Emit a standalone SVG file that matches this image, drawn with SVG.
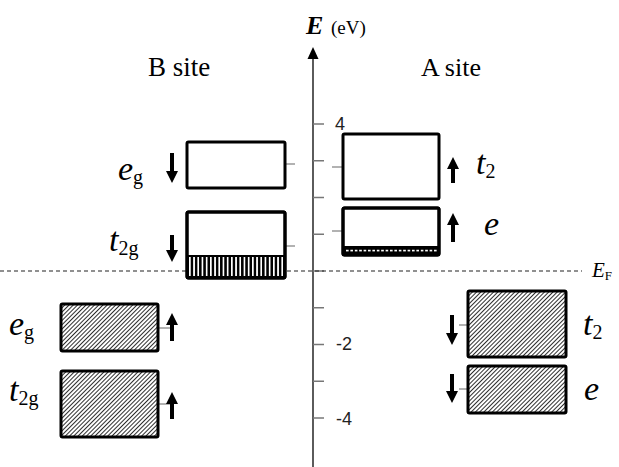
<svg xmlns="http://www.w3.org/2000/svg" width="619" height="467" viewBox="0 0 619 467">
<style>
.box{stroke:#000;stroke-width:3;fill:#fff}
.hbox{stroke:#000;stroke-width:3;fill:url(#diag)}
.arr{fill:#000;stroke:none}
.stub{stroke:#888;stroke-width:1.3}
.tick{stroke:#777;stroke-width:1.5}
.serif{font-family:"Liberation Serif","Times New Roman",serif;fill:#000}
.lab{font-family:"Liberation Serif","Times New Roman",serif;font-size:34px;font-style:italic;fill:#000}
.sub{font-style:normal;font-size:20px}
.num{font-family:"Liberation Sans",Arial,sans-serif;font-size:18px;fill:#222}
</style>
<defs>
<pattern id="diag" patternUnits="userSpaceOnUse" width="3" height="3" patternTransform="rotate(45)">
<rect width="3" height="3" fill="#fff"/>
<line x1="0" y1="0" x2="0" y2="3" stroke="#222" stroke-width="1.9"/>
</pattern>
<pattern id="vstripe" patternUnits="userSpaceOnUse" x="189" y="0" width="4.2" height="10">
<rect x="0" y="0" width="1.7" height="10" fill="#fff"/>
</pattern>
<pattern id="dots" patternUnits="userSpaceOnUse" x="346" y="249.5" width="4.4" height="10">
<rect x="0" y="0" width="2.6" height="2.2" fill="#fff"/>
</pattern>
</defs>

<g id="axis">
<line x1="313" y1="56" x2="313" y2="467" stroke="#333" stroke-width="1.6"/>
<polygon points="313,47 307.5,59 318.5,59" fill="#000"/>
<line class="tick" x1="313" y1="124" x2="324" y2="124"/>
<line class="tick" x1="313" y1="160.75" x2="324" y2="160.75"/>
<line class="tick" x1="313" y1="197.5" x2="324" y2="197.5"/>
<line class="tick" x1="313" y1="234.25" x2="324" y2="234.25"/>
<line class="tick" x1="313" y1="271" x2="324" y2="271"/>
<line class="tick" x1="313" y1="307.75" x2="324" y2="307.75"/>
<line class="tick" x1="313" y1="344.5" x2="324" y2="344.5"/>
<line class="tick" x1="313" y1="381.25" x2="324" y2="381.25"/>
<line class="tick" x1="313" y1="418" x2="324" y2="418"/>
<text class="num" x="335" y="130">4</text>
<text class="num" x="336" y="350">-2</text>
<text class="num" x="336" y="425">-4</text>
<text class="serif" x="306" y="34" font-size="26" font-weight="bold" font-style="italic">E</text>
<text class="serif" x="331" y="34" font-size="19">(eV)</text>
</g>

<g id="fermi">
<line x1="0" y1="271" x2="582" y2="271" stroke="#222" stroke-width="1.2" stroke-dasharray="4,3"/>
<text class="serif" x="592" y="277" font-size="21" font-style="italic">E<tspan font-size="13" font-style="normal" dy="3">F</tspan></text>
</g>

<g id="titles">
<text class="serif" x="148" y="76" font-size="27">B site</text>
<text class="serif" x="421" y="76" font-size="26">A site</text>
</g>

<g id="B-eg-down">
<line class="stub" x1="285" y1="164" x2="295" y2="164"/>
<rect class="box" x="187" y="142" width="98" height="46" rx="1.5"/>
<path class="arr" d="M170,153 H174 V171 H178 L172,183 L166,171 H170 Z"/>
<text class="lab" x="118" y="180">e<tspan class="sub" dy="4">g</tspan></text>
</g>

<g id="B-t2g-down">
<line class="stub" x1="285" y1="246" x2="295" y2="246"/>
<rect class="box" x="187" y="212" width="98" height="66" rx="1.5"/>
<rect x="187" y="255" width="98" height="23" fill="#000"/>
<rect x="188" y="257" width="96" height="19" fill="url(#vstripe)"/>
<rect x="187" y="212" width="98" height="66" rx="1.5" fill="none" stroke="#000" stroke-width="3"/>
<path class="arr" d="M170,235 H174 V250 H178 L172,262 L166,250 H170 Z"/>
<text class="lab" x="109" y="251">t<tspan class="sub" dy="4">2g</tspan></text>
</g>

<g id="A-t2-up">
<line class="stub" x1="332" y1="167" x2="343" y2="167"/>
<rect class="box" x="343" y="134" width="96" height="65" rx="1.5"/>
<path class="arr" d="M451,183 H455 V169 H459 L453,157 L447,169 H451 Z"/>
<text class="lab" x="476" y="174">t<tspan class="sub" dy="4">2</tspan></text>
</g>

<g id="A-e-up">
<line class="stub" x1="332" y1="231" x2="343" y2="231"/>
<rect class="box" x="343" y="208" width="96" height="47" rx="1.5"/>
<rect x="343" y="246" width="96" height="9" fill="#000"/>
<rect x="345" y="249.5" width="92" height="2.2" fill="url(#dots)"/>
<rect x="343" y="208" width="96" height="47" rx="1.5" fill="none" stroke="#000" stroke-width="3"/>
<path class="arr" d="M451,242 H455 V225 H459 L453,213 L447,225 H451 Z"/>
<text class="lab" x="484" y="235">e</text>
</g>

<g id="B-eg-up">
<line class="stub" x1="158" y1="328" x2="170" y2="328"/>
<rect class="hbox" x="61" y="304" width="97" height="47" rx="1.5"/>
<path class="arr" d="M170,341 H174 V325 H178 L172,313 L166,325 H170 Z"/>
<text class="lab" x="9" y="335">e<tspan class="sub" dy="4">g</tspan></text>
</g>

<g id="B-t2g-up">
<line class="stub" x1="158" y1="404" x2="170" y2="404"/>
<rect class="hbox" x="61" y="371" width="97" height="66" rx="1.5"/>
<path class="arr" d="M170,419 H174 V404 H178 L172,392 L166,404 H170 Z"/>
<text class="lab" x="9" y="401">t<tspan class="sub" dy="4">2g</tspan></text>
</g>

<g id="A-t2-down">
<line class="stub" x1="459" y1="325" x2="468" y2="325"/>
<rect class="hbox" x="468" y="291" width="98" height="66" rx="1.5"/>
<path class="arr" d="M450,315 H454 V333 H458 L452,345 L446,333 H450 Z"/>
<text class="lab" x="583" y="335">t<tspan class="sub" dy="4">2</tspan></text>
</g>

<g id="A-e-down">
<line class="stub" x1="459" y1="389" x2="468" y2="389"/>
<rect class="hbox" x="468" y="366" width="98" height="47" rx="1.5"/>
<path class="arr" d="M450,374 H454 V391 H458 L452,403 L446,391 H450 Z"/>
<text class="lab" x="584" y="400">e</text>
</g>
</svg>
